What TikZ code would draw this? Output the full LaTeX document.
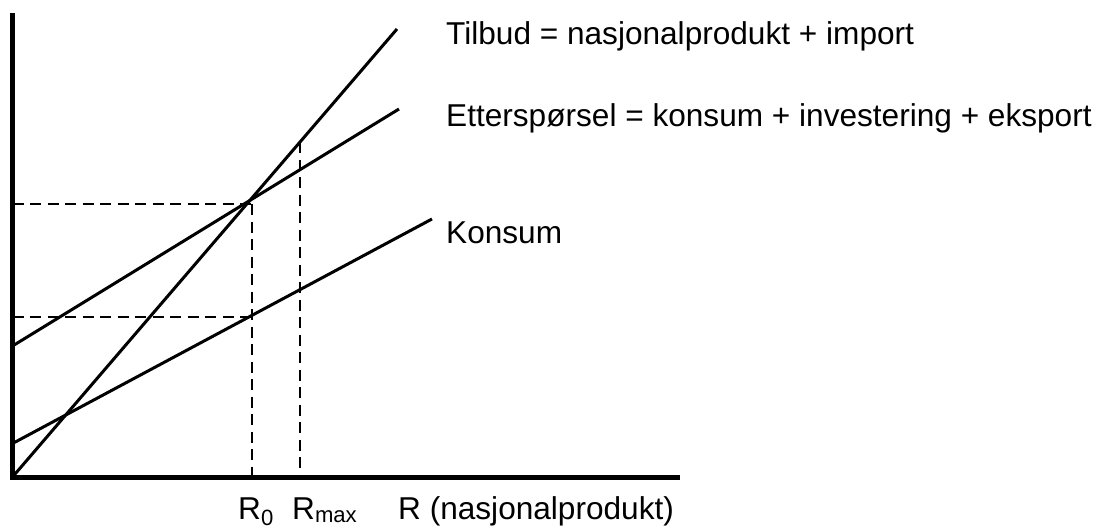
\documentclass[tikz,border=0pt]{standalone}
\usepackage{fontspec}
\setmainfont{Liberation Sans}
\begin{document}
\begin{tikzpicture}[x=1pt,y=-1pt,
  axisline/.style={line width=5pt, line join=miter},
  curve/.style={line width=3pt},
  guide/.style={line width=1.2pt, dash pattern=on 11pt off 6.5pt},
  lbl/.style={anchor=base west, inner sep=0pt, font=\fontsize{31.6}{38}\selectfont}]
\useasboundingbox (0,0) rectangle (1102,532);
\fill[white] (0,0) rectangle (1102,532);
% coordinates
\coordinate (O) at (12.5,477);
\coordinate (ytop) at (12.5,13);
\coordinate (xend) at (680,477);
\coordinate (T1) at (397,29);
\coordinate (E0) at (12.5,346);
\coordinate (E1) at (399,109);
\coordinate (K0) at (12.5,443.5);
\coordinate (K1) at (432,219);
\coordinate (h1a) at (12.5,204);
\coordinate (h1b) at (252,204);
\coordinate (v1b) at (252,477);
\coordinate (h2a) at (12.5,317);
\coordinate (h2b) at (252,317);
\coordinate (v2a) at (300,142);
\coordinate (v2b) at (300,477);
% guides
\draw[guide] (h1a) -- (h1b);
\draw[guide] (h1b) -- (v1b);
\draw[guide] (h2a) -- (h2b);
\draw[guide] (v2a) -- (v2b);
% lines
\draw[curve] (O) -- (T1);
\draw[curve] (E0) -- (E1);
\draw[curve] (K0) -- (K1);
% axes
\draw[axisline] (ytop) -- (O) -- (xend);
% labels
\node[lbl] (lblT) at (446,45) {Tilbud = nasjonalprodukt + import};
\node[lbl] (lblE) at (446,126) {Etterspørsel = konsum + investering + eksport};
\node[lbl] (lblK) at (446,243) {Konsum};
\node[lbl] (lblR0) at (238,519) {R\textsubscript{0}};
\node[lbl] (lblRmax) at (292,519) {R\textsubscript{max}};
\node[lbl] (lblR) at (398,519) {R (nasjonalprodukt)};
\end{tikzpicture}
\end{document}
